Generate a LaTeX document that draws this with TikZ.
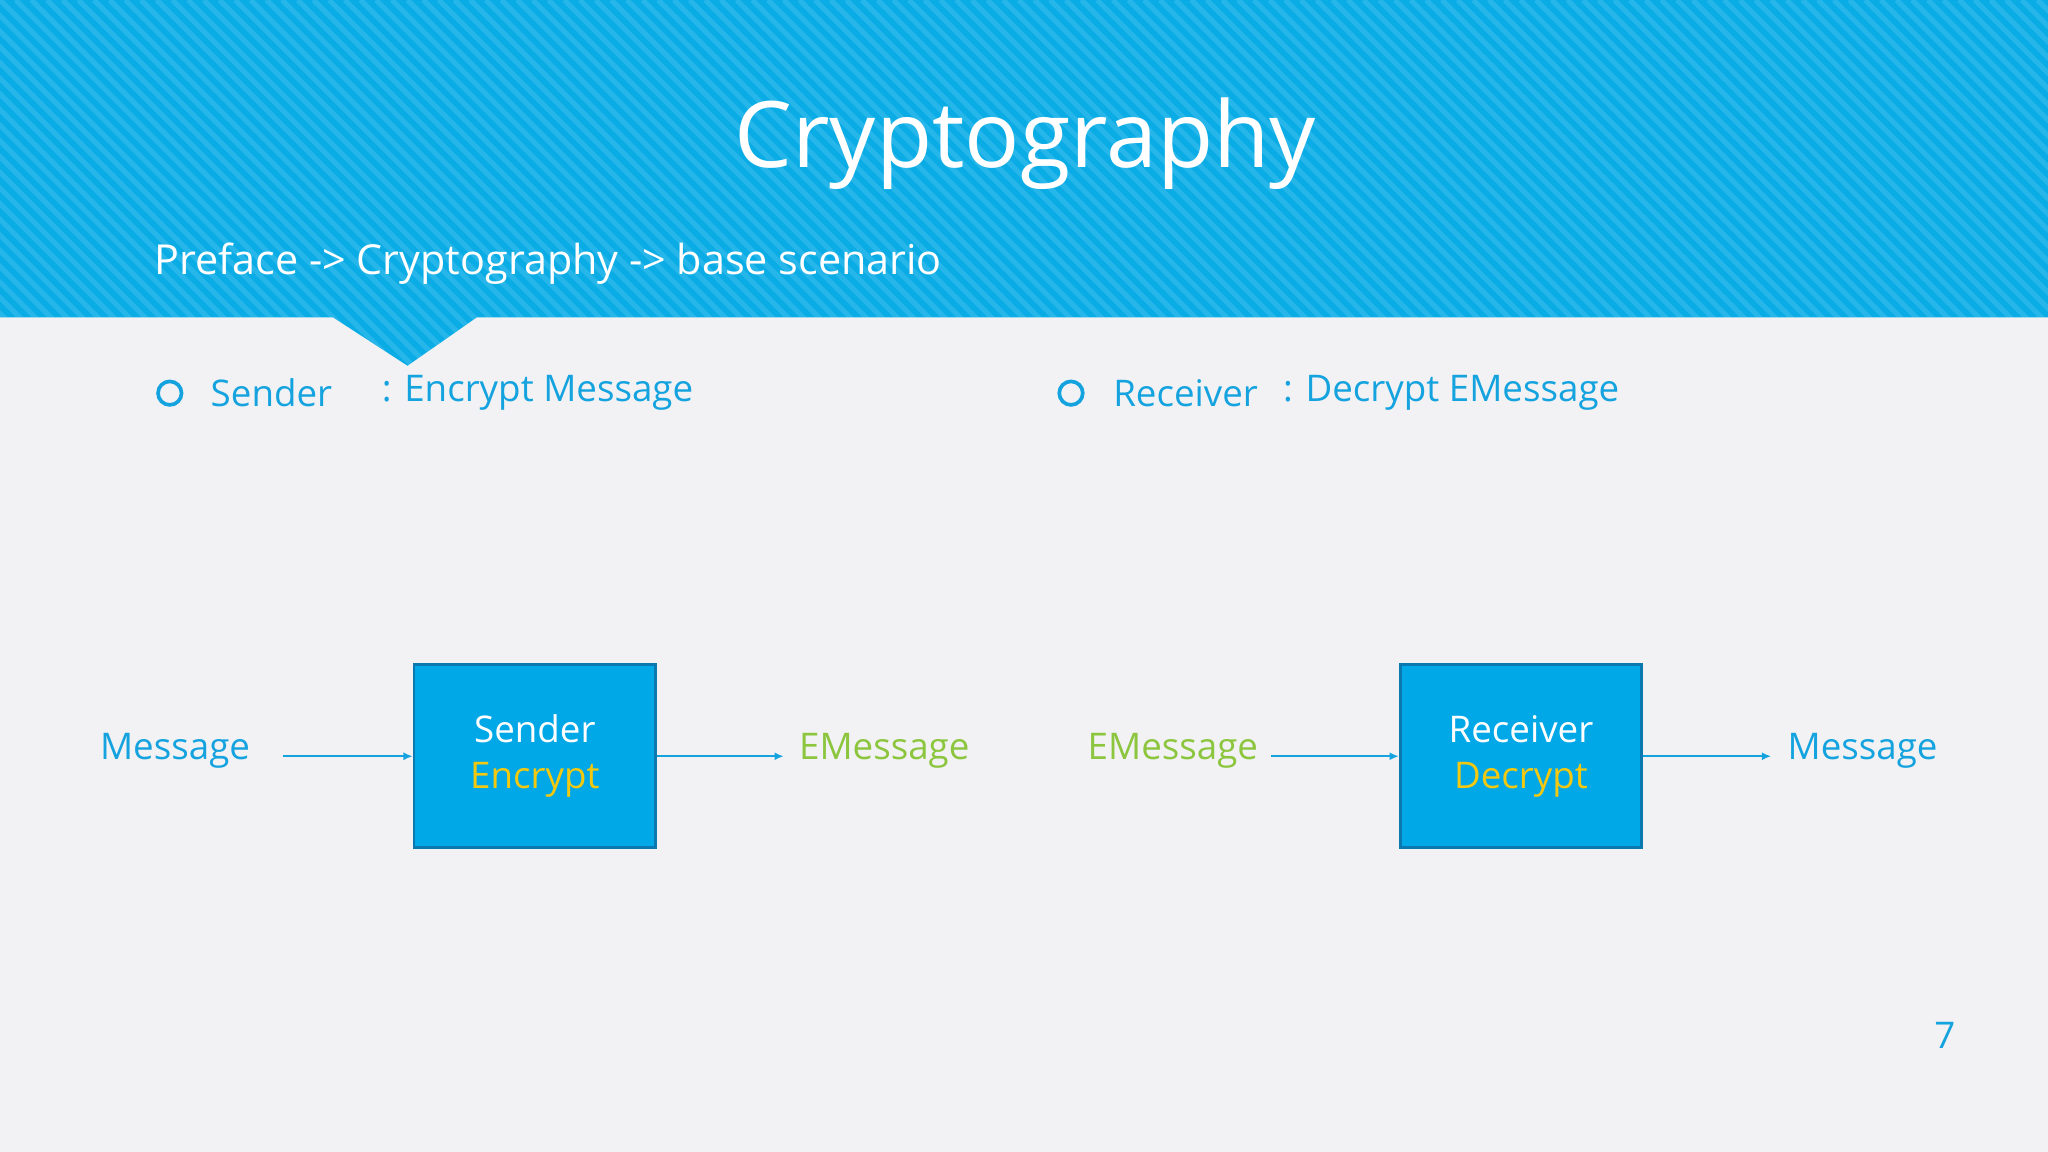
\documentclass[tikz,border=0pt]{standalone}
\usepackage{fontspec}
\setmainfont{Open Sans}
\definecolor{bg}{HTML}{F2F2F4}
\definecolor{hdr}{HTML}{0AACE6}
\definecolor{blu}{HTML}{14A3DF}
\definecolor{boxf}{HTML}{00A8E8}
\definecolor{boxd}{HTML}{0B78B0}
\definecolor{yel}{HTML}{F2C811}
\definecolor{grn}{HTML}{8CC63F}
\tikzset{
  lbl/.style={font=\fontsize{16}{18}\selectfont, text=blu, inner sep=0pt},
  glbl/.style={lbl, text=grn},
  procbox/.style={draw=boxd, line width=1.2pt, fill=boxf, minimum width=185*0.02cm, minimum height=140*0.02cm, align=center, font=\fontsize{16}{20}\selectfont, text=white},
  arr/.style={draw=blu, line width=0.8pt, -{Latex[length=4pt,width=3.5pt]}},
}
\usetikzlibrary{arrows.meta}
\begin{document}
\begin{tikzpicture}[x=0.02cm,y=-0.02cm]
\useasboundingbox (0,0) rectangle (1568,882);
\fill[bg] (0,0) rectangle (1568,882);
\fill[hdr] (0,0) -- (1568,0) -- (1568,243) -- (365,243) -- (312,280) -- (255,243) -- (0,243) -- cycle;
\begin{scope}
\clip (0,0) -- (1568,0) -- (1568,243) -- (365,243) -- (312,280) -- (255,243) -- (0,243) -- cycle;
\foreach \i in {-300,-288,...,1580} {
  \draw[white, opacity=0.12, line width=2.2pt] (\i,0) -- (\i+290,290);
}
\end{scope}
\node[text=white, font=\fontsize{40}{44}\selectfont] (title) at (785,110) {Cryptography};
\node[anchor=west, text=white, font=\fontsize{18}{20}\selectfont, inner sep=0pt] (sub) at (118,202) {Preface -> Cryptography -> base scenario};
\draw[blu, line width=1.6pt] (130,301) circle (9);
\node[lbl, anchor=west] (b1) at (161,301) {Sender};
\node[lbl, anchor=west] (b1b) at (292,301) {: Encrypt Message};
\draw[blu, line width=1.6pt] (820,301) circle (9);
\node[lbl, anchor=west] (b2) at (852,301) {Receiver};
\node[lbl, anchor=west] (b2b) at (982,301) {: Decrypt EMessage};
\node[procbox] (s) at (409.5,579) {Sender\\\textcolor{yel}{Encrypt}};
\node[procbox] (r) at (1164.5,579) {Receiver\\\textcolor{yel}{Decrypt}};
\node[lbl] (m1) at (134,575) {Message};
\node[glbl] (e1) at (677,575) {EMessage};
\node[glbl] (e2) at (898,575) {EMessage};
\node[lbl] (m2) at (1426,575) {Message};
\coordinate (a1) at (217,579);
\coordinate (a2) at (600,579);
\coordinate (a3) at (973,579);
\coordinate (a4) at (1356,579);
\draw[arr] (a1) -- (s.west);
\draw[arr] (s.east) -- (a2);
\draw[arr] (a3) -- (r.west);
\draw[arr] (r.east) -- (a4);
\node[lbl] (pg) at (1489,793) {7};
\end{tikzpicture}
\end{document}
